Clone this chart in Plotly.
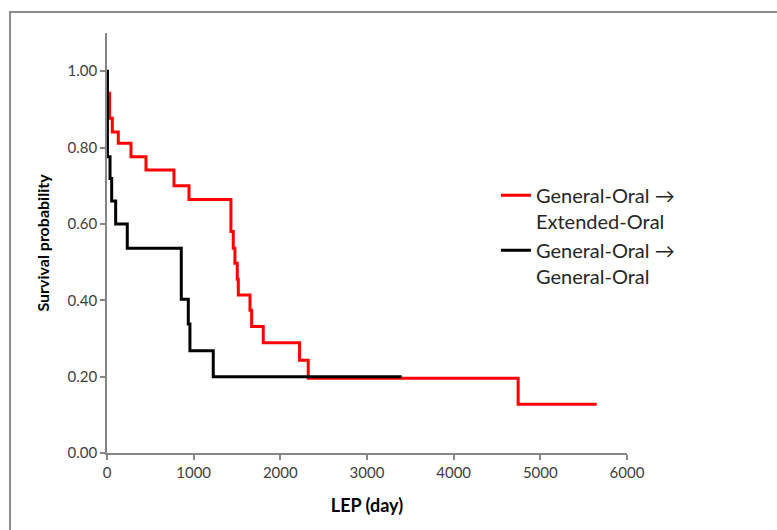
import plotly.graph_objects as go

# Kaplan-Meier style step data (time in days, survival after event)
red_name = "General-Oral →<br>Extended-Oral"
red_t = [0, 0, 30, 61, 130, 277, 450, 773, 946, 1430, 1457, 1476, 1503, 1515,
         1650, 1669, 1803, 2222, 2322, 4744, 5650]
red_s = [1.0, 0.942, 0.877, 0.841, 0.811, 0.776, 0.741, 0.700, 0.664, 0.580,
         0.536, 0.497, 0.455, 0.414, 0.374, 0.331, 0.289, 0.243, 0.196, 0.128, 0.128]

black_name = "General-Oral →<br>General-Oral"
black_t = [0, 5, 35, 54, 100, 234, 857, 938, 957, 1226, 3400]
black_s = [1.0, 0.776, 0.719, 0.660, 0.600, 0.536, 0.403, 0.338, 0.268, 0.200, 0.200]

x_ticks = [0, 1000, 2000, 3000, 4000, 5000, 6000]
y_ticks = [0.0, 0.2, 0.4, 0.6, 0.8, 1.0]

fig = go.Figure()
fig.add_trace(go.Scatter(x=red_t, y=red_s, mode="lines", name=red_name,
                         line=dict(color="#FF0000", width=3, shape="hv")))
fig.add_trace(go.Scatter(x=black_t, y=black_s, mode="lines", name=black_name,
                         line=dict(color="#000000", width=3, shape="hv")))

axis_col = "#868686"
fig.update_layout(
    width=777, height=530,
    margin=dict(l=107, r=150, t=33, b=77),
    paper_bgcolor="white", plot_bgcolor="white",
    font=dict(family="Lato, Carlito, Calibri, sans-serif", color="#595959", size=15),
    xaxis=dict(range=[0, 6000], tickvals=x_ticks, ticktext=[str(v) for v in x_ticks],
               showline=True, linecolor=axis_col, linewidth=1.5,
               ticks="outside", ticklen=5, tickcolor=axis_col, tickwidth=1.5,
               showgrid=False, zeroline=False,
               tickfont=dict(size=15, color="#404040"),
               title=dict(text="<b>LEP (day)</b>", font=dict(size=18, color="#000000"), standoff=20)),
    yaxis=dict(range=[0, 1.1], tickvals=y_ticks, tickformat=".2f",
               showline=True, linecolor=axis_col, linewidth=1.5,
               ticks="outside", ticklen=5, tickcolor=axis_col, tickwidth=1.5,
               showgrid=False, zeroline=False,
               tickfont=dict(size=15, color="#404040"),
               title=dict(text="<b>Survival probability</b>", font=dict(size=16, color="#000000"), standoff=14)),
    legend=dict(x=0.748, y=0.66, xanchor="left", yanchor="top", valign="top",
                bgcolor="rgba(0,0,0,0)", font=dict(size=20, color="#262626"),
                itemwidth=30),
    showlegend=True,
    shapes=[dict(type="rect", xref="paper", yref="paper",
                 x0=-0.1865, x1=1.32, y0=-0.23, y1=1.05,
                 line=dict(color="#8c8c8c", width=2), fillcolor="rgba(0,0,0,0)",
                 layer="below")],
)

fig.write_html("out.html")
